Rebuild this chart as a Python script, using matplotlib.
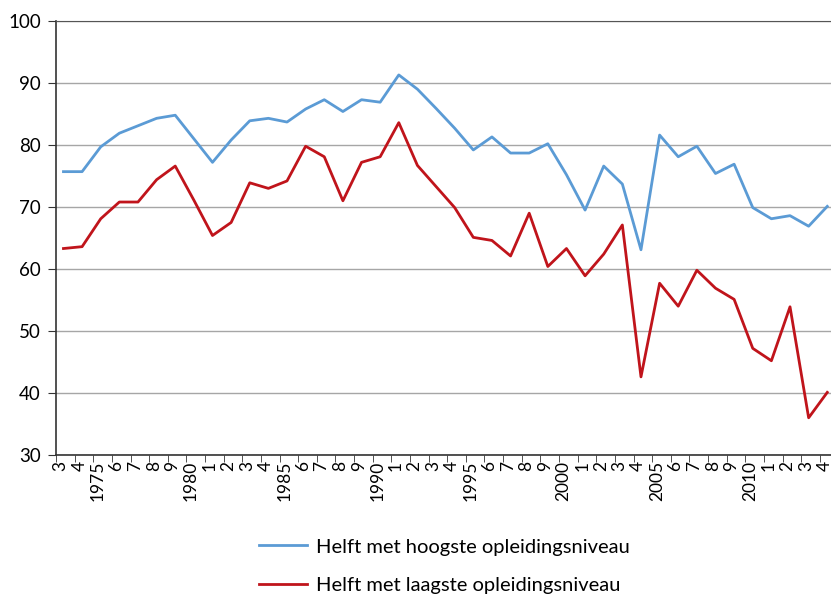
import matplotlib
matplotlib.use("Agg")
import matplotlib.pyplot as plt
import numpy as np

plt.rcParams['font.family'] = ['Lato', 'DejaVu Sans']

years = list(range(1973, 2015))
tick_labels = ['3', '4', '1975', '6', '7', '8', '9', '1980', '1', '2', '3', '4', '1985',
               '6', '7', '8', '9', '1990', '1', '2', '3', '4', '1995', '6', '7', '8', '9',
               '2000', '1', '2', '3', '4', '2005', '6', '7', '8', '9', '2010', '1', '2', '3', '4']

hoog = [75.7, 75.7, 79.7, 81.9, 83.1, 84.3, 84.8, 81.0, 77.2, 80.8, 83.9, 84.3, 83.7,
        85.8, 87.3, 85.4, 87.3, 86.9, 91.3, 89.0, 85.9, 82.7, 79.2, 81.3, 78.7, 78.7, 80.2,
        75.2, 69.5, 76.6, 73.7, 63.1, 81.6, 78.1, 79.8, 75.4, 76.9, 69.9, 68.1, 68.6, 66.9, 70.1]
laag = [63.3, 63.6, 68.1, 70.8, 70.8, 74.4, 76.6, 71.1, 65.4, 67.5, 73.9, 73.0, 74.2,
        79.8, 78.1, 71.0, 77.2, 78.1, 83.6, 76.7, 73.3, 69.9, 65.1, 64.6, 62.1, 69.0, 60.4,
        63.3, 58.9, 62.4, 67.1, 42.6, 57.7, 54.0, 59.8, 56.9, 55.1, 47.2, 45.2, 53.9, 36.0, 40.1]

fig = plt.figure(figsize=(8.31, 5.96), dpi=100)
ax = fig.add_axes([0.0674, 0.2366, 0.9326, 0.7282])

x = np.arange(len(years))
ax.plot(x, hoog, color='#5b9bd5', lw=2.0, label='Helft met hoogste opleidingsniveau')
ax.plot(x, laag, color='#c0141b', lw=2.0, label='Helft met laagste opleidingsniveau')

ax.set_ylim(30, 100)
ax.set_xlim(-0.4, len(years) - 0.8)
ax.set_yticks(range(30, 101, 10))
ax.yaxis.grid(True, color='#a6a6a6', lw=1.0)
ax.set_axisbelow(True)

# jaartallen in het midden, streepjes op de grenzen
ax.set_xticks(x - 0.15)
ax.set_xticklabels(tick_labels, rotation=90, fontsize=12.5)
ax.tick_params(axis='x', which='major', length=0, pad=4)
ax.set_xticks(np.arange(-0.4, len(years) - 0.8, 1), minor=True)
ax.tick_params(axis='x', which='minor', length=5, color='#333333')
ax.tick_params(axis='y', labelsize=13.5, length=6, color='#333333', pad=5)

for s in ['left', 'bottom']:
    ax.spines[s].set_color('#333333')
    ax.spines[s].set_linewidth(1.2)
ax.spines['top'].set_color('#555555')
ax.spines['right'].set_visible(False)

fig.legend(loc='upper left', bbox_to_anchor=(0.290, 0.127), frameon=False,
           fontsize=14.5, handlelength=2.4, labelspacing=1.05, handletextpad=0.4)

fig.savefig('out.png', dpi=100)
